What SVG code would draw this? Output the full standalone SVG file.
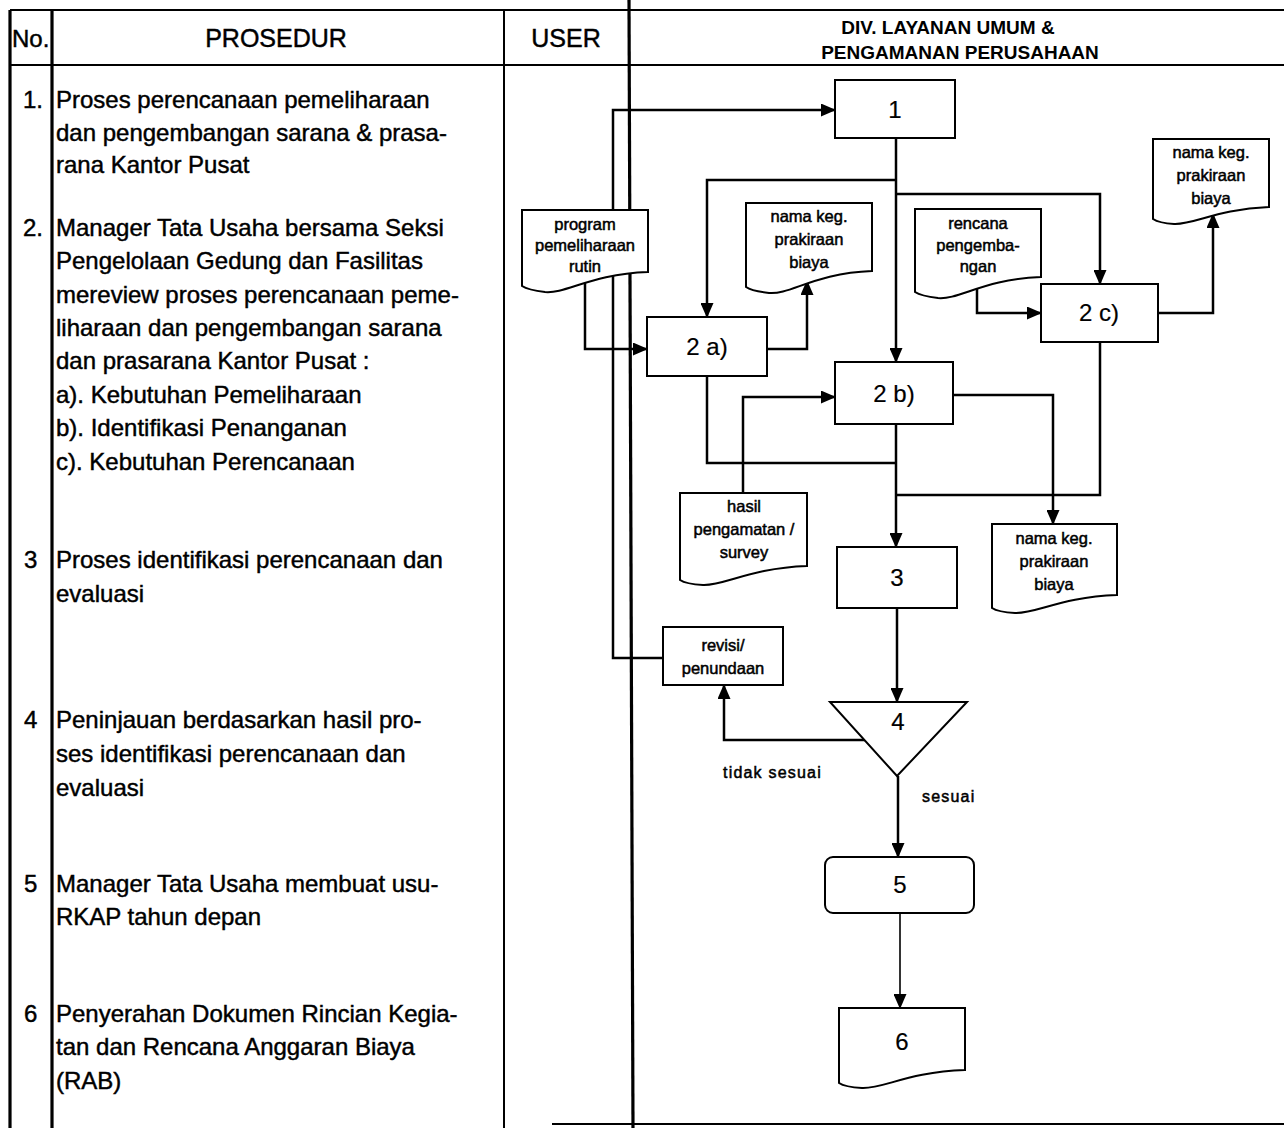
<svg xmlns="http://www.w3.org/2000/svg" width="1284" height="1128" viewBox="0 0 1284 1128">
<style>
text{font-family:"Liberation Sans",Arial,sans-serif;fill:#000;stroke:#000;stroke-width:0.45}
.tbl{stroke:#000;stroke-width:2;fill:none}
.thick{stroke:#000;stroke-width:3.2;fill:none}
.hd{font-size:25px;text-anchor:middle}
.hd2{font-size:19px;font-weight:bold;text-anchor:middle;stroke-width:0}
.body{font-size:24px}
.num{font-size:24px}
.box{fill:#fff;stroke:#000;stroke-width:2}
.lbl{font-size:24px;text-anchor:middle;stroke-width:0.2}
.dt{font-size:16.5px;text-anchor:middle;stroke-width:0.5}
.cn{fill:none;stroke:#000;stroke-width:2.5}
.cnt{fill:none;stroke:#000;stroke-width:1.6}
.note{font-size:16px;letter-spacing:1.2px;stroke-width:0.5}
</style>
<defs>
<marker id="ah" markerUnits="userSpaceOnUse" markerWidth="15" markerHeight="13" refX="14" refY="6.5" orient="auto">
<path d="M0,0 L15,6.5 L0,13 Z" fill="#000"/>
</marker>
</defs>
<rect width="1284" height="1128" fill="#fff" stroke="none"/>
<g id="table">
<line class="tbl" x1="10" y1="10" x2="1284" y2="10"/>
<line class="tbl" x1="10" y1="65" x2="1284" y2="65"/>
<line class="tbl" x1="552" y1="1124" x2="1284" y2="1124"/>
<line class="thick" x1="10" y1="10" x2="10" y2="1128"/>
<line class="thick" x1="52" y1="10" x2="52" y2="1128"/>
<line class="tbl" x1="504" y1="10" x2="504" y2="1128"/>
<line class="thick" x1="629" y1="0" x2="633" y2="1128"/>
</g>
<g id="header">
<text x="12" y="47" style="font-size:24px">No.</text>
<text class="hd" x="276" y="47">PROSEDUR</text>
<text class="hd" x="566" y="47">USER</text>
<text class="hd2" x="948" y="34">DIV. LAYANAN UMUM &amp;</text>
<text class="hd2" x="960" y="59">PENGAMANAN PERUSAHAAN</text>
</g>
<g id="procedures" class="body">
<text class="num" x="23" y="108">1.</text>
<text x="56" y="108">Proses perencanaan pemeliharaan</text>
<text x="56" y="141">dan pengembangan sarana &amp; prasa-</text>
<text x="56" y="173">rana Kantor Pusat</text>
<text class="num" x="23" y="236">2.</text>
<text x="56" y="236">Manager Tata Usaha bersama Seksi</text>
<text x="56" y="269">Pengelolaan Gedung dan Fasilitas</text>
<text x="56" y="303">mereview proses perencanaan peme-</text>
<text x="56" y="336">liharaan dan pengembangan sarana</text>
<text x="56" y="369">dan prasarana Kantor Pusat :</text>
<text x="56" y="403">a). Kebutuhan Pemeliharaan</text>
<text x="56" y="436">b). Identifikasi Penanganan</text>
<text x="56" y="470">c). Kebutuhan Perencanaan</text>
<text class="num" x="24" y="568">3</text>
<text x="56" y="568">Proses identifikasi perencanaan dan</text>
<text x="56" y="602">evaluasi</text>
<text class="num" x="24" y="728">4</text>
<text x="56" y="728">Peninjauan berdasarkan hasil pro-</text>
<text x="56" y="762">ses identifikasi perencanaan dan</text>
<text x="56" y="796">evaluasi</text>
<text class="num" x="24" y="892">5</text>
<text x="56" y="892">Manager Tata Usaha membuat usu-</text>
<text x="56" y="925">RKAP tahun depan</text>
<text class="num" x="24" y="1022">6</text>
<text x="56" y="1022">Penyerahan Dokumen Rincian Kegia-</text>
<text x="56" y="1055">tan dan Rencana Anggaran Biaya</text>
<text x="56" y="1089">(RAB)</text>
</g>
<g id="connectors">
<path class="cn" d="M663,658 H613 V110 H835" marker-end="url(#ah)"/>
<path class="cn" d="M585,280 V349 H647" marker-end="url(#ah)"/>
<path class="cn" d="M896,138 V362" marker-end="url(#ah)"/>
<path class="cn" d="M896,180 H707 V317" marker-end="url(#ah)"/>
<path class="cn" d="M896,194 H1100 V284" marker-end="url(#ah)"/>
<path class="cn" d="M767,349 H807 V281" marker-end="url(#ah)"/>
<path class="cn" d="M977,287 V313 H1041" marker-end="url(#ah)"/>
<path class="cn" d="M1158,313 H1213 V214" marker-end="url(#ah)"/>
<path class="cn" d="M743,493 V397 H835" marker-end="url(#ah)"/>
<path class="cn" d="M707,376 V463 H896"/>
<path class="cn" d="M896,424 V547" marker-end="url(#ah)"/>
<path class="cn" d="M1100,342 V495 H896"/>
<path class="cn" d="M953,395 H1053 V524" marker-end="url(#ah)"/>
<path class="cn" d="M897,608 V702" marker-end="url(#ah)"/>
<path class="cn" d="M865,740 H724 V685" marker-end="url(#ah)"/>
<path class="cn" d="M898,776 V857" marker-end="url(#ah)"/>
<path class="cnt" d="M900,913 V1008" marker-end="url(#ah)"/>
<text class="note" x="723" y="778">tidak sesuai</text>
<text class="note" x="922" y="802">sesuai</text>
</g>
<g id="doc-program">
<path class="box" d="M522,210 H648 V272 C591,274 566,294 545,292 Q528,290 522,286 Z"/>
<text class="dt" x="585" y="230">program</text>
<text class="dt" x="585" y="251">pemeliharaan</text>
<text class="dt" x="585" y="272">rutin</text>
</g>
<g id="doc-namakeg1">
<path class="box" d="M746,203 H872 V271 C815,273 790,295 769,293 Q752,291 746,287 Z"/>
<text class="dt" x="809" y="222">nama keg.</text>
<text class="dt" x="809" y="245">prakiraan</text>
<text class="dt" x="809" y="268">biaya</text>
</g>
<g id="doc-rencana">
<path class="box" d="M915,209 H1041 V277 C984,279 959,300 938,298 Q921,296 915,292 Z"/>
<text class="dt" x="978" y="229">rencana</text>
<text class="dt" x="978" y="251">pengemba-</text>
<text class="dt" x="978" y="272">ngan</text>
</g>
<g id="doc-namakeg3">
<path class="box" d="M1153,139 H1269 V207 C1217,209 1194,225 1174,224 Q1159,223 1153,219 Z"/>
<text class="dt" x="1211" y="158">nama keg.</text>
<text class="dt" x="1211" y="181">prakiraan</text>
<text class="dt" x="1211" y="204">biaya</text>
</g>
<g id="doc-hasil">
<path class="box" d="M680,493 H807 V566 C750,568 724,586 703,585 Q686,584 680,580 Z"/>
<text class="dt" x="744" y="512">hasil</text>
<text class="dt" x="744" y="535">pengamatan /</text>
<text class="dt" x="744" y="558">survey</text>
</g>
<g id="doc-namakeg2">
<path class="box" d="M992,524 H1117 V595 C1061,597 1036,614 1015,613 Q998,612 992,608 Z"/>
<text class="dt" x="1054" y="544">nama keg.</text>
<text class="dt" x="1054" y="567">prakiraan</text>
<text class="dt" x="1054" y="590">biaya</text>
</g>
<g id="doc-6">
<path class="box" d="M839,1008 H965 V1070 C908,1072 883,1089 862,1088 Q845,1087 839,1083 Z"/>
<text class="lbl" x="902" y="1050">6</text>
</g>
<g id="box-1">
<rect class="box" x="835" y="80" width="120" height="58"/>
<text class="lbl" x="895" y="118">1</text>
</g>
<g id="box-2a">
<rect class="box" x="647" y="317" width="120" height="59"/>
<text class="lbl" x="707" y="355">2 a)</text>
</g>
<g id="box-2b">
<rect class="box" x="835" y="362" width="118" height="62"/>
<text class="lbl" x="894" y="402">2 b)</text>
</g>
<g id="box-2c">
<rect class="box" x="1041" y="284" width="117" height="58"/>
<text class="lbl" x="1099" y="321">2 c)</text>
</g>
<g id="box-3">
<rect class="box" x="837" y="547" width="120" height="61"/>
<text class="lbl" x="897" y="586">3</text>
</g>
<g id="box-revisi">
<rect class="box" x="663" y="627" width="120" height="58"/>
<text class="dt" x="723" y="651">revisi/</text>
<text class="dt" x="723" y="674">penundaan</text>
</g>
<g id="decision-4">
<polygon class="box" points="830,702 967,702 897,776"/>
<text class="lbl" x="898" y="730">4</text>
</g>
<g id="box-5">
<rect class="box" x="825" y="857" width="149" height="56" rx="8"/>
<text class="lbl" x="900" y="893">5</text>
</g>
</svg>
